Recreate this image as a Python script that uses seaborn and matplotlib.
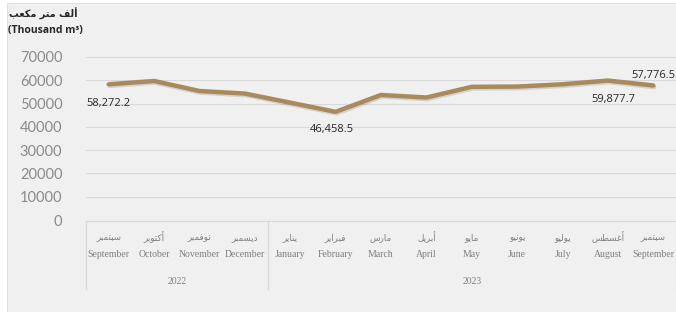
import numpy as np
import pandas as pd
import matplotlib.pyplot as plt
import seaborn as sns
from matplotlib import patheffects as pe
from matplotlib.patches import Rectangle
from matplotlib.transforms import blended_transform_factory

months_en = ["September", "October", "November", "December", "January", "February",
             "March", "April", "May", "June", "July", "August", "September"]
months_ar = ["سبتمبر", "أكتوبر", "نوفمبر", "ديسمبر", "يناير", "فبراير",
             "مارس", "أبريل", "مايو", "يونيو", "يوليو", "أغسطس", "سبتمبر"]
years = ["2022", "2023"]
year_first = [0, 4]
year_last = [3, 12]
values = [58272.2, 59700, 55400, 54300, 50400, 46458.5, 53700, 52600,
          57200, 57300, 58300, 59877.7, 57776.5]
label_idx = [0, 5, 11, 12]
yticks = [0, 10000, 20000, 30000, 40000, 50000, 60000, 70000]

LINE = "#a88a5c"
GREY = "#7f7f7f"
GRID = "#d9d9d9"
BG = "#f0f0f0"

# minimal arabic shaping (matplotlib has no shaping): isolated, final, initial, medial
FORMS = {
    "ا": (0xFE8D, 0xFE8E, None, None), "أ": (0xFE83, 0xFE84, None, None),
    "ب": (0xFE8F, 0xFE90, 0xFE91, 0xFE92), "ت": (0xFE95, 0xFE96, 0xFE97, 0xFE98),
    "د": (0xFEA9, 0xFEAA, None, None), "ر": (0xFEAD, 0xFEAE, None, None),
    "س": (0xFEB1, 0xFEB2, 0xFEB3, 0xFEB4), "ط": (0xFEC1, 0xFEC2, 0xFEC3, 0xFEC4),
    "ع": (0xFEC9, 0xFECA, 0xFECB, 0xFECC), "غ": (0xFECD, 0xFECE, 0xFECF, 0xFED0),
    "ف": (0xFED1, 0xFED2, 0xFED3, 0xFED4), "ك": (0xFED9, 0xFEDA, 0xFEDB, 0xFEDC),
    "ل": (0xFEDD, 0xFEDE, 0xFEDF, 0xFEE0), "م": (0xFEE1, 0xFEE2, 0xFEE3, 0xFEE4),
    "ن": (0xFEE5, 0xFEE6, 0xFEE7, 0xFEE8), "و": (0xFEED, 0xFEEE, None, None),
    "ي": (0xFEF1, 0xFEF2, 0xFEF3, 0xFEF4),
}


def shape(text):
    out = []
    for i, ch in enumerate(text):
        if ch not in FORMS:
            out.append(ch)
            continue
        prev = text[i - 1] if i > 0 else " "
        nxt = text[i + 1] if i + 1 < len(text) else " "
        jp = prev in FORMS and FORMS[prev][2] is not None
        jn = FORMS[ch][2] is not None and nxt in FORMS
        f = FORMS[ch]
        code = f[3] if jp and jn else f[1] if jp else f[2] if jn else f[0]
        out.append(chr(code))
    return "".join(out)[::-1]


sns.set_style("white")
plt.rcParams["font.family"] = ["Lato", "DejaVu Sans"]

fig = plt.figure(figsize=(6.76, 3.12), dpi=100, facecolor="white")
fig.patches.append(Rectangle((7 / 676, 0), 1, 1 - 3 / 312, transform=fig.transFigure,
                             facecolor=BG, edgecolor="#e2e2e2", lw=0.8, zorder=-10))
ax = fig.add_axes([86 / 676, (312 - 220) / 312, 590 / 676, 163 / 312])
ax.set_facecolor("none")

df = pd.DataFrame({"pos": np.arange(len(values)), "value": values})
sns.lineplot(data=df, x="pos", y="value", color=LINE, lw=3.2, ax=ax,
             solid_joinstyle="round", solid_capstyle="round",
             path_effects=[pe.SimpleLineShadow(offset=(0.6, -1.2), alpha=0.12), pe.Normal()])

ax.set_xlim(-0.5, len(values) - 0.5)
ax.set_ylim(0, 70000)
ax.set_yticks(yticks)
ax.set_yticklabels([str(t) for t in yticks], fontsize=10.5, color="#8a8a8a")
ax.tick_params(axis="y", length=0, pad=17)
ax.set_xticks([])
ax.set_xlabel("")
ax.set_ylabel("")
for s in ax.spines.values():
    s.set_visible(False)
ax.grid(axis="y", color=GRID, lw=0.8)
ax.grid(axis="x", visible=False)
ax.set_axisbelow(True)

# data labels
offsets = {0: (0, -10, "top"), 5: (-3, -9, "top"), 11: (4, -10, "top"), 12: (0, 3, "bottom")}
for i in label_idx:
    dx, dy, va = offsets[i]
    ax.annotate(f"{values[i]:,.1f}", (i, values[i]), xytext=(dx, dy), textcoords="offset points",
                ha="center", va=va, fontsize=8, color="#262626", family="Open Sans")

# category axis with year groups
tr = blended_transform_factory(ax.transData, ax.transAxes)
ax.plot([-0.5, len(values) - 0.5], [-0.006, -0.006], transform=tr, color=GRID, lw=0.9, clip_on=False)
for x in [-0.5, 3.5, len(values) - 0.5]:
    ax.plot([x, x], [-0.006, -0.423], transform=tr, color=GRID, lw=0.9, clip_on=False)
for i in range(len(values)):
    ax.text(i, -0.105, shape(months_ar[i]), transform=tr, ha="center", va="center",
            fontsize=6.3, color=GREY, family="DejaVu Sans")
    ax.text(i, -0.21, months_en[i], transform=tr, ha="center", va="center",
            fontsize=7, color=GREY, family="Liberation Serif")
for y, a, b in zip(years, year_first, year_last):
    ax.text((a + b) / 2, -0.375, y, transform=tr, ha="center", va="center",
            fontsize=7, color=GREY, family="Liberation Serif")

# axis title
fig.text(43 / 676, 1 - 14 / 312, shape("ألف متر مكعب"), ha="center", va="center",
         fontsize=7, fontweight="bold", color="#262626", family="DejaVu Sans")
fig.text(8 / 676, 1 - 31 / 312, "(Thousand m³)", ha="left", va="center",
         fontsize=7.5, fontweight="bold", color="#262626", family="Open Sans")

fig.savefig("out.png", dpi=100, facecolor=fig.get_facecolor())
